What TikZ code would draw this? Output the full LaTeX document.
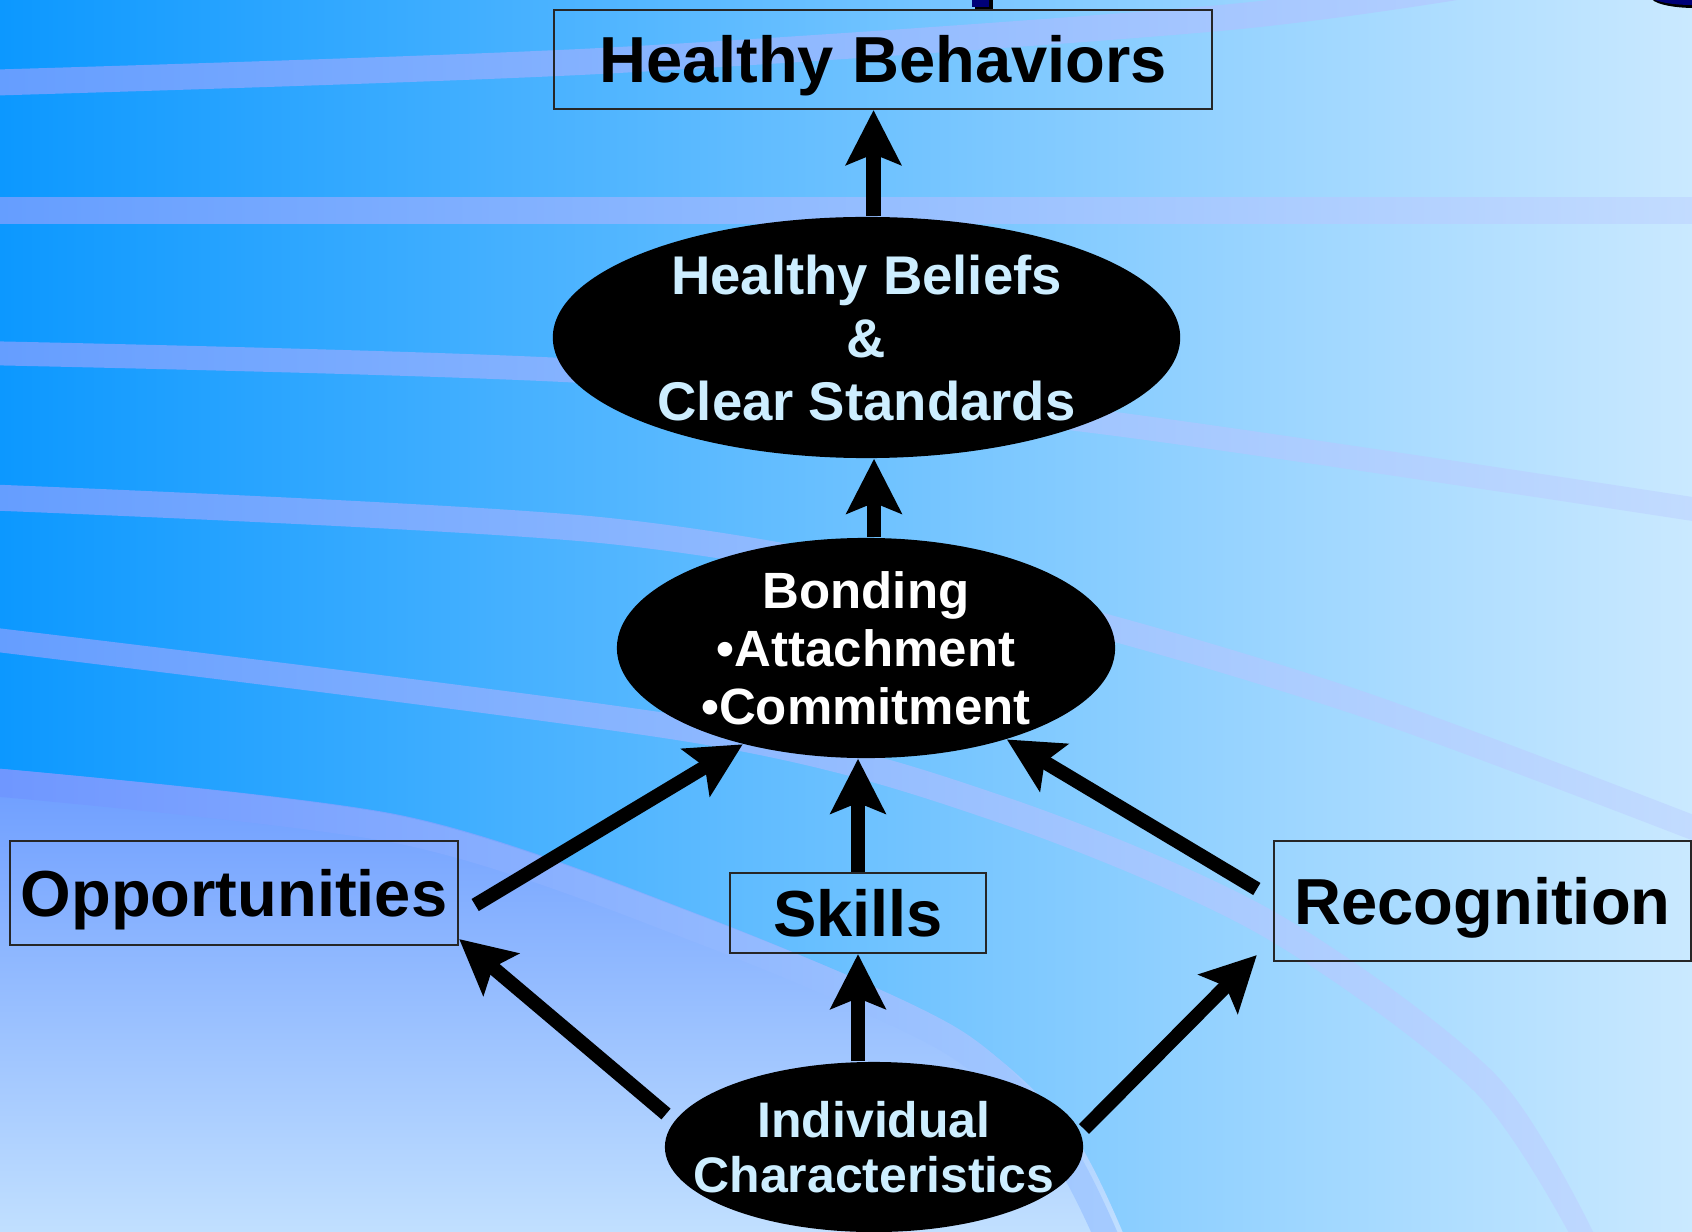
\documentclass[tikz,border=0pt]{standalone}
\usepackage{fontspec}
\setmainfont{Liberation Sans}
\usetikzlibrary{arrows.meta,shapes.geometric,calc}
\definecolor{bgL}{RGB}{12,152,255}
\definecolor{bgR}{RGB}{202,233,255}
\definecolor{bandL}{RGB}{100,157,255}
\definecolor{bandR}{RGB}{195,220,255}
\definecolor{lowT}{RGB}{108,156,255}
\definecolor{lowB}{RGB}{196,226,255}
\definecolor{txtc}{RGB}{205,238,255}
\definecolor{navy}{RGB}{0,0,120}
\begin{document}
\begin{tikzpicture}[x=0.01cm,y=-0.01cm,
  box/.style={draw=black!85,line width=0.6pt,inner sep=0pt,text depth=0pt,text height=13.3pt,font=\fontsize{18.5}{22}\selectfont\bfseries},
  oval/.style={ellipse,fill=black,inner sep=0pt},
  ovaltext/.style={align=center,text depth=0pt,inner sep=0pt},
  arr/.style={line width=4pt,-{Stealth[length=15.5pt,width=15.5pt,inset=3pt]}},
  band/.style={left color=bandL,right color=bandR}]
\useasboundingbox (0,0) rectangle (1692,1231);
\shade[left color=bgL,right color=bgR] (0,0) rectangle (1692,1231);
\begin{scope}
\clip (0,0) rectangle (1692,1231);
\shade[band,right color={rgb,255:red,180;green,208;blue,255}] plot[smooth] coordinates {(-20,70) (600,48) (1220,5) (1500,-33)} -- plot[smooth] coordinates {(1500,-7) (1220,31) (600,74) (-20,96)} -- cycle;
\shade[band] (-20,198) rectangle (1712,224);
\shade[band] plot[smooth] coordinates {(-20,341) (600,360) (1100,410) (1712,500)} -- plot[smooth] coordinates {(1712,524) (1100,434) (600,384) (-20,365)} -- cycle;
\shade[band] plot[smooth] coordinates {(-20,484) (600,517) (1000,587) (1350,687) (1712,822)} -- plot[smooth] coordinates {(1712,848) (1350,713) (1000,613) (600,543) (-20,510)} -- cycle;
\shade[band,right color={rgb,255:red,190;green,216;blue,255}] plot[smooth] coordinates {(-20,626) (705,719) (1006,797) (1273,911) (1496,1075) (1602,1250)} -- plot[smooth] coordinates {(1578,1250) (1474,1091) (1257,933) (994,821) (695,743) (-20,650)} -- cycle;
\shade[top color=lowT,bottom color=lowB] plot[smooth] coordinates {(-20,767) (400,815) (700,915) (950,1025) (1070,1130) (1130,1250)} -- (-20,1250) -- cycle;
\shade[left color={rgb,255:red,110;green,150;blue,255},right color={rgb,255:red,165;green,203;blue,255}] plot[smooth] coordinates {(-20,767) (400,816) (703,917) (957,1028) (1068,1137) (1125,1250)} -- plot[smooth] coordinates {(1099,1250) (1048,1153) (943,1052) (697,943) (400,844) (-20,795)} -- cycle;
% fragments of a title above the picture
\fill[black] (975,0) rectangle (993,10);
\fill[navy] (972,-1) rectangle (989,7);
\fill[black] (1695,-3) ellipse [x radius=0.44cm, y radius=0.11cm];
\fill[navy] (1692,-6) ellipse [x radius=0.44cm, y radius=0.11cm];
\end{scope}

\node[box,minimum width=6.58cm,minimum height=0.99cm] (hb) at (883,59.5) {Healthy Behaviors};
\node[oval,minimum width=6.27cm,minimum height=2.41cm] (beliefs) at (866.5,337.5) {};
\node[ovaltext,text=txtc,font=\fontsize{15.5}{17.9}\selectfont\bfseries] (beliefsT) at (beliefs) {Healthy Beliefs\\\&\\Clear Standards};
\node[oval,minimum width=4.98cm,minimum height=2.2cm] (bond) at (866,648) {};
\node[ovaltext,text=white,font=\fontsize{14.5}{16.4}\selectfont\bfseries] (bondT) at (bond) {Bonding\\•Attachment\\•Commitment};
\node[oval,minimum width=4.18cm,minimum height=1.7cm] (ic) at (874,1147) {};
\node[ovaltext,text=txtc,font=\fontsize{14.2}{15.6}\selectfont\bfseries] (icT) at (ic) {Individual\\Characteristics};
\node[box,minimum width=2.56cm,minimum height=0.8cm] (skills) at (858,913) {Skills};
\node[box,minimum width=4.48cm,minimum height=1.04cm] (opp) at (234,893) {Opportunities};
\node[box,minimum width=4.17cm,minimum height=1.2cm] (rec) at (1482.5,901) {Recognition};

\coordinate (a1) at ([xshift=0.07cm]beliefs.north);
\draw[arr] (a1) -- (a1 |- hb.south);
\coordinate (a2) at ([xshift=0.08cm]bond.north);
\draw[arr] (a2) -- (a2 |- beliefs.south);
\draw[arr] (skills.north) -- (skills.north |- bond.south);
\draw[arr] (skills.south |- ic.north) -- (skills.south);
\coordinate (oS) at ([xshift=0.16cm,yshift=-0.12cm]opp.east);
\draw[arr] (oS) -- (bond.218.5);
\coordinate (rS) at ([xshift=-0.16cm,yshift=0.12cm]rec.west);
\draw[arr] (rS) -- (bond.327.9);
\coordinate (icL) at (666,1114);
\draw[arr] (icL) -- ([yshift=0.07cm]opp.south east);
\coordinate (icR) at (1084,1129);
\draw[arr] (icR) -- ([xshift=-0.16cm,yshift=0.07cm]rec.south west);
\end{tikzpicture}
\end{document}
